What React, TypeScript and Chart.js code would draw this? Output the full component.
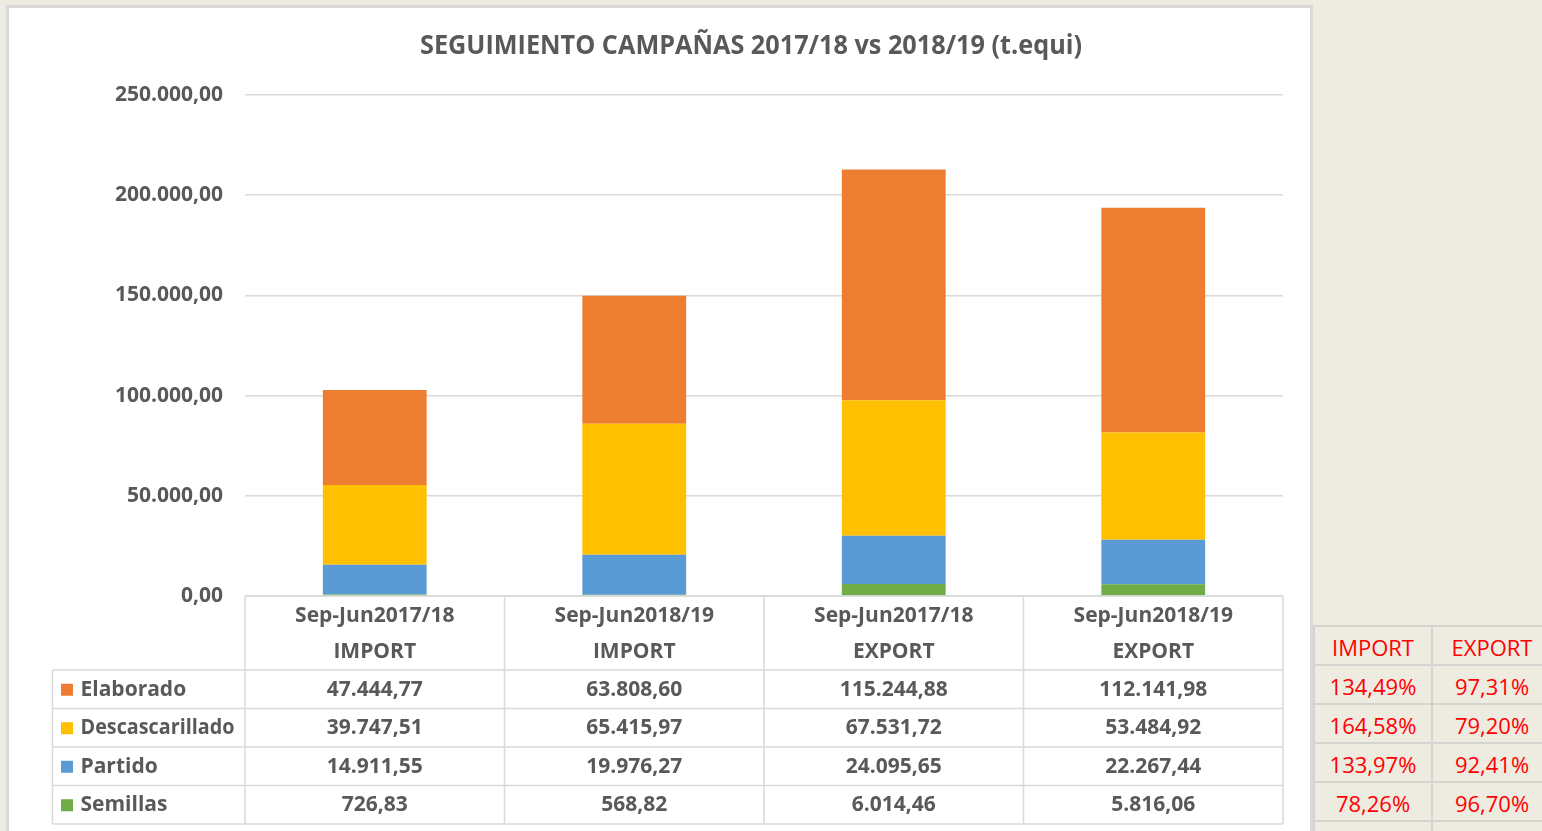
import React, { useEffect, useRef } from "react";
import { Chart, registerables } from "chart.js";

Chart.register(...registerables);

const TITLE = "SEGUIMIENTO CAMPAÑAS 2017/18 vs 2018/19 (t.equi)";
const periods = ["Sep-Jun2017/18", "Sep-Jun2018/19", "Sep-Jun2017/18", "Sep-Jun2018/19"];
const flows = ["IMPORT", "IMPORT", "EXPORT", "EXPORT"];

const elaborado = [47444.77, 63808.6, 115244.88, 112141.98];
const descascarillado = [39747.51, 65415.97, 67531.72, 53484.92];
const partido = [14911.55, 19976.27, 24095.65, 22267.44];
const semillas = [726.83, 568.82, 6014.46, 5816.06];

const seriesNames = ["Elaborado", "Descascarillado", "Partido", "Semillas"];
const seriesColors = ["#ED7D31", "#FFC000", "#5B9BD5", "#70AD47"];

const pctHeaders = ["IMPORT", "EXPORT"];
const pctImport = [134.49, 164.58, 133.97, 78.26];
const pctExport = [97.31, 79.2, 92.41, 96.7];

const yTicks = [0, 50000, 100000, 150000, 200000, 250000];

const FONT = "'Open Sans', 'DejaVu Sans', sans-serif";
const GREY = "#595959";
const LINE = "#D9D9D9";

function fmt(v: number): string {
  const [i, d] = v.toFixed(2).split(".");
  return i.replace(/\B(?=(\d{3})+(?!\d))/g, ".") + "," + d;
}
function fmtPct(v: number): string {
  return v.toFixed(2).replace(".", ",") + "%";
}

const tablePlugin = {
  id: "dataTable",
  afterDraw(chart: any) {
    const { ctx, chartArea, scales } = chart;
    const xs = scales.x;
    const top = chartArea.bottom;
    const headerBottom = top + 74;
    const rowH = 38.5;
    const legendLeft = 52.5;
    const n = periods.length;
    const catW = (chartArea.right - chartArea.left) / n;
    const rows = [elaborado, descascarillado, partido, semillas];

    ctx.save();
    // title
    ctx.fillStyle = GREY;
    ctx.font = `bold 26px ${FONT}`;
    ctx.textAlign = "center";
    ctx.textBaseline = "middle";
    ctx.fillText(TITLE, 751, 47, 662);

    // grid lines of table
    ctx.strokeStyle = LINE;
    ctx.lineWidth = 1.5;
    ctx.beginPath();
    ctx.moveTo(chartArea.left, top);
    ctx.lineTo(chartArea.right, top);
    for (let r = 0; r <= rows.length; r++) {
      const y = headerBottom + r * rowH;
      ctx.moveTo(legendLeft, y);
      ctx.lineTo(chartArea.right, y);
    }
    const bottom = headerBottom + rows.length * rowH;
    ctx.moveTo(legendLeft, headerBottom);
    ctx.lineTo(legendLeft, bottom);
    for (let c = 0; c <= n; c++) {
      const x = chartArea.left + c * catW;
      ctx.moveTo(x, top);
      ctx.lineTo(x, bottom);
    }
    ctx.stroke();

    // header text
    ctx.fillStyle = GREY;
    ctx.font = `bold 21px ${FONT}`;
    ctx.textAlign = "center";
    for (let c = 0; c < n; c++) {
      const cx = xs.getPixelForValue(c);
      ctx.fillText(periods[c], cx, top + 20.5, 162);
      ctx.fillText(flows[c], cx, top + 56);
    }
    // rows
    for (let r = 0; r < rows.length; r++) {
      const cy = headerBottom + r * rowH + rowH / 2 + 0.5;
      ctx.fillStyle = seriesColors[r];
      ctx.fillRect(61, cy - 6, 12, 12);
      ctx.fillStyle = GREY;
      ctx.textAlign = "left";
      ctx.fillText(seriesNames[r], 80.5, cy, 154);
      ctx.textAlign = "center";
      for (let c = 0; c < n; c++) {
        ctx.fillText(fmt(rows[r][c]), xs.getPixelForValue(c), cy);
      }
    }
    ctx.restore();
  },
};

export default function App() {
  const ref = useRef<HTMLCanvasElement | null>(null);

  useEffect(() => {
    if (!ref.current) return;
    const chart = new Chart(ref.current, {
      type: "bar",
      data: {
        labels: periods.map((p, i) => [p, flows[i]]),
        datasets: [
          { label: seriesNames[3], data: semillas, backgroundColor: seriesColors[3] },
          { label: seriesNames[2], data: partido, backgroundColor: seriesColors[2] },
          { label: seriesNames[1], data: descascarillado, backgroundColor: seriesColors[1] },
          { label: seriesNames[0], data: elaborado, backgroundColor: seriesColors[0] },
        ],
      },
      options: {
        responsive: false,
        animation: false,
        layout: { padding: { left: 0, right: 259, top: 95, bottom: 0 } },
        datasets: { bar: { barPercentage: 0.4, categoryPercentage: 1, borderWidth: 0 } },
        plugins: {
          legend: { display: false },
          title: { display: false },
          tooltip: { enabled: false },
        },
        scales: {
          x: {
            stacked: true,
            grid: { display: false },
            border: { display: false },
            ticks: { display: false },
            afterFit: (s: any) => {
              s.height = 235;
            },
          },
          y: {
            stacked: true,
            min: 0,
            max: 250000,
            afterBuildTicks: (s: any) => {
              s.ticks = yTicks.map((v) => ({ value: v }));
            },
            grid: { color: LINE, lineWidth: 1.5, drawTicks: false },
            border: { display: false },
            ticks: {
              padding: 22,
              color: GREY,
              font: { family: FONT, size: 21, weight: "bold" },
              callback: (v: any) => fmt(Number(v)),
            },
            afterFit: (s: any) => {
              s.width = 245;
            },
          },
        },
      },
      plugins: [tablePlugin],
    } as any);
    return () => chart.destroy();
  }, []);

  const pctRows = pctImport.map((v, i) => [fmtPct(v), fmtPct(pctExport[i])]);
  const cellLine = "#D3D3CF";
  const rowTops = [626, 665, 704, 743, 782, 821];

  return (
    <div
      style={{
        position: "fixed",
        left: 0,
        top: 0,
        width: 1542,
        height: 831,
        background: "#EEEBE0",
        overflow: "hidden",
      }}
    >
      <div
        style={{
          position: "absolute",
          left: 6,
          top: 5,
          width: 1307,
          height: 900,
          boxSizing: "border-box",
          border: "3px solid #D9D9D9",
          background: "#FFFFFF",
        }}
      />
      {rowTops.map((t, i) => (
        <div
          key={"h" + i}
          style={{ position: "absolute", left: 1313, top: t - 1, width: 240, height: 2, background: cellLine }}
        />
      ))}
      <div style={{ position: "absolute", left: 1313, top: 626, width: 2, height: 220, background: cellLine }} />
      <div style={{ position: "absolute", left: 1431, top: 626, width: 2, height: 220, background: cellLine }} />
      {[pctHeaders, ...pctRows].map((row, r) =>
        row.map((txt, c) => (
          <div
            key={r + "-" + c}
            style={{
              position: "absolute",
              left: c === 0 ? 1315 : 1433,
              width: c === 0 ? 116 : 118,
              top: rowTops[r] + 2,
              height: 39,
              lineHeight: "39px",
              textAlign: "center",
              color: "#FF0000",
              fontFamily: FONT,
              fontSize: 22,
              whiteSpace: "nowrap",
            }}
          >
            {txt}
          </div>
        ))
      )}
      <canvas
        ref={ref}
        width={1542}
        height={831}
        style={{ position: "absolute", left: 0, top: 0, width: 1542, height: 831, display: "block" }}
      />
    </div>
  );
}
